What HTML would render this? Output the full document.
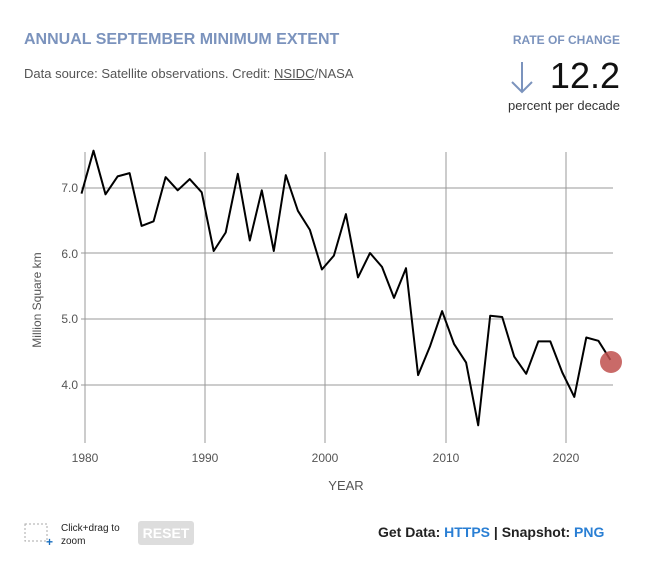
<!DOCTYPE html>
<html><head><style>
body{margin:0;background:#fff;font-family:"Liberation Sans",sans-serif;}
.w{position:relative;width:670px;height:577px;overflow:hidden;}
</style></head><body><div class="w">
<div style="position:absolute;left:24px;top:31px;font-size:16px;font-weight:bold;color:#7b93bd;">ANNUAL SEPTEMBER MINIMUM EXTENT</div>
<div style="position:absolute;left:24px;top:66px;font-size:13px;color:#555;">Data source: Satellite observations. Credit: <span style="text-decoration:underline">NSIDC</span>/NASA</div>
<div style="position:absolute;right:50px;top:33px;font-size:12px;font-weight:bold;color:#7b93bd;">RATE OF CHANGE</div>
<div style="position:absolute;right:50px;top:56px;font-size:36px;color:#111;line-height:40px;">12.2</div>
<svg style="position:absolute;left:508px;top:60px" width="30" height="36"><path d="M14 2V32M4 22L14 32L24 22" stroke="#7b93bd" stroke-width="2" fill="none"/></svg>
<div style="position:absolute;right:50px;top:98px;font-size:13px;color:#333;">percent per decade</div>
<svg style="position:absolute;left:0;top:0" width="670" height="577">
<g stroke="#999" stroke-width="1">
<line x1="85" y1="152" x2="85" y2="443"/><line x1="205" y1="152" x2="205" y2="443"/><line x1="325" y1="152" x2="325" y2="443"/><line x1="446" y1="152" x2="446" y2="443"/><line x1="566" y1="152" x2="566" y2="443"/>
<line x1="81" y1="188" x2="613" y2="188"/><line x1="81" y1="253" x2="613" y2="253"/><line x1="81" y1="319" x2="613" y2="319"/><line x1="81" y1="385" x2="613" y2="385"/>
</g>
<g font-size="12" fill="#555" text-anchor="end"><text x="78" y="192">7.0</text><text x="78" y="258">6.0</text><text x="78" y="323">5.0</text><text x="78" y="389">4.0</text></g>
<g font-size="12" fill="#555" text-anchor="middle"><text x="85" y="462">1980</text><text x="205" y="462">1990</text><text x="325" y="462">2000</text><text x="446" y="462">2010</text><text x="566" y="462">2020</text>
<text x="346" y="490" font-size="13">YEAR</text></g>
<text transform="translate(41,300) rotate(-90)" font-size="12" fill="#555" text-anchor="middle">Million Square km</text>
<polyline id="p" fill="none" stroke="#000" stroke-width="2" stroke-linejoin="round" points=""/>
<circle cx="611" cy="362" r="11" fill="#c0504d" fill-opacity="0.85"/>
<rect x="25" y="524" width="22" height="17" fill="none" stroke="#aaa" stroke-dasharray="2,2"/>
<text x="46" y="546" font-size="12" fill="#1a6fbf" font-weight="bold">+</text>
</svg>
<div style="position:absolute;left:61px;top:522px;font-size:10px;color:#222;line-height:13px;">Click+drag to<br>zoom</div>
<div style="position:absolute;left:138px;top:521px;width:56px;height:24px;background:#ddd;border-radius:3px;color:#fff;font-weight:bold;font-size:14px;text-align:center;line-height:24px;">RESET</div>
<div style="position:absolute;left:378px;top:524px;font-size:14px;font-weight:bold;color:#222;">Get Data: <span style="color:#2a7fd4">HTTPS</span> | Snapshot: <span style="color:#2a7fd4">PNG</span></div>
</div>
<script>
var v=[6.90,7.55,6.89,7.16,7.21,6.41,6.48,7.15,6.95,7.12,6.92,6.03,6.31,7.20,6.19,6.95,6.03,7.18,6.64,6.35,5.75,5.96,6.59,5.63,6.00,5.79,5.32,5.77,4.15,4.59,5.12,4.62,4.34,3.39,5.05,5.03,4.43,4.17,4.66,4.66,4.19,3.82,4.72,4.67,4.38];
var s=v.map(function(y,i){return (81.5+i*12.02).toFixed(1)+","+(385-(y-4)*66).toFixed(1)}).join(" ");
document.getElementById("p").setAttribute("points",s);
</script>
</body></html>
